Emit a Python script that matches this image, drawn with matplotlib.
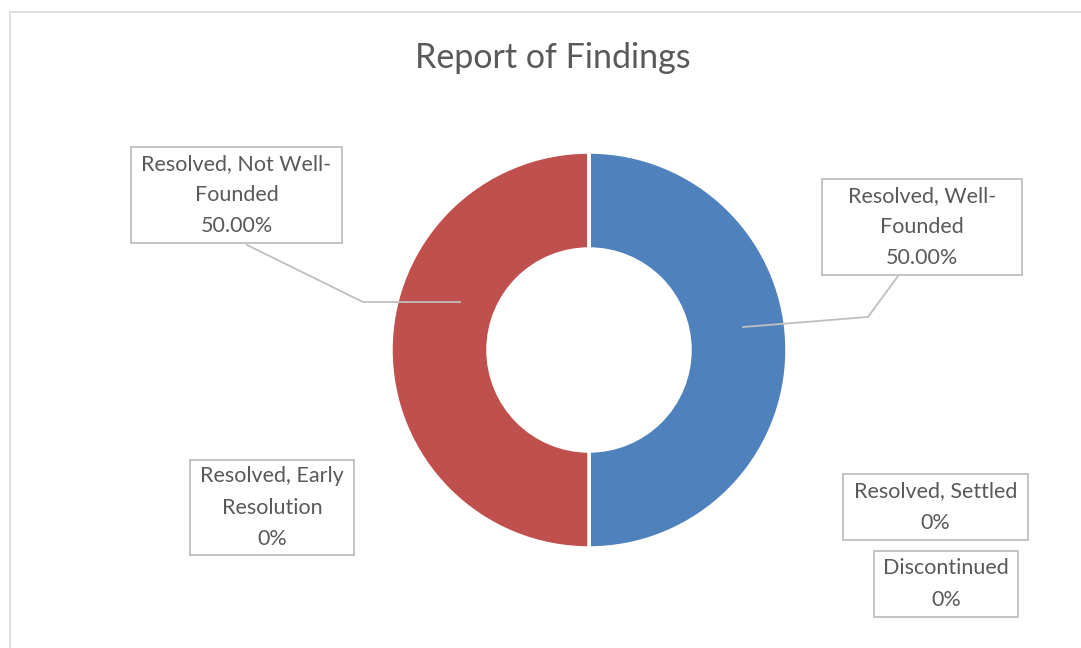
import matplotlib
matplotlib.use("Agg")
import matplotlib.pyplot as plt
from matplotlib.patches import Rectangle

# data
categories = ["Resolved, Well-Founded", "Resolved, Not Well-Founded",
              "Resolved, Early Resolution", "Resolved, Settled", "Discontinued"]
shares = [50.0, 50.0, 0.0, 0.0, 0.0]
wrapped = ["Resolved, Well-\nFounded", "Resolved, Not Well-\nFounded",
           "Resolved, Early\nResolution", "Resolved, Settled", "Discontinued"]
colors = ["#4F81BD", "#C0504D", "#9BBB59", "#8064A2", "#4BACC6"]

W, H = 1081, 648
TXT = "#595959"
FONT = ["Lato", "DejaVu Sans"]

# label box layout in pixel coords (x0, y0 top, x1, y1 bottom)
boxes = [(822, 179, 1022, 275), (131, 147, 342, 243), (190, 460, 354, 555),
         (843, 474, 1028, 540), (874, 551, 1018, 617)]
# leader lines (pixel coords), only for non-zero slices
leaders = {0: [(898, 276), (868, 317), (743, 327)],
           1: [(247, 245), (363, 302), (460, 302)]}


def fy(y):
    return H - y


fig = plt.figure(figsize=(W / 100, H / 100), dpi=100)
ax = fig.add_axes([0, 0, 1, 1])
ax.set_xlim(0, W)
ax.set_ylim(0, H)
ax.axis("off")

# chart border
ax.add_patch(Rectangle((10, -20), W + 20, fy(12) + 20, fill=False,
                       edgecolor="#D9D9D9", linewidth=1.2))

ax.pie(shares, colors=colors, startangle=90, counterclock=False,
       radius=198, center=(589, fy(350)),
       wedgeprops=dict(width=97, edgecolor="white", linewidth=2.5))
ax.set_xlim(0, W)
ax.set_ylim(0, H)
ax.set_aspect("auto")

ax.text(553, fy(58), "Report of Findings", ha="center", va="center",
        fontsize=24.5, color=TXT, family=FONT)

for i, (lab, v) in enumerate(zip(wrapped, shares)):
    x0, y0, x1, y1 = boxes[i]
    ax.add_patch(Rectangle((x0, fy(y1)), x1 - x0, y1 - y0, facecolor="white",
                           edgecolor="#BFBFBF", linewidth=1.3, zorder=3))
    pct = f"{v:.2f}%" if v else "0%"
    ax.text((x0 + x1) / 2, fy((y0 + y1) / 2), f"{lab}\n{pct}", ha="center",
            va="center", fontsize=15.5, color=TXT, family=FONT,
            linespacing=1.7, zorder=4)
    if i in leaders:
        pts = leaders[i]
        ax.plot([p[0] for p in pts], [fy(p[1]) for p in pts],
                color="#BFBFBF", linewidth=1.3, zorder=2)

fig.savefig("out.png", dpi=100)
